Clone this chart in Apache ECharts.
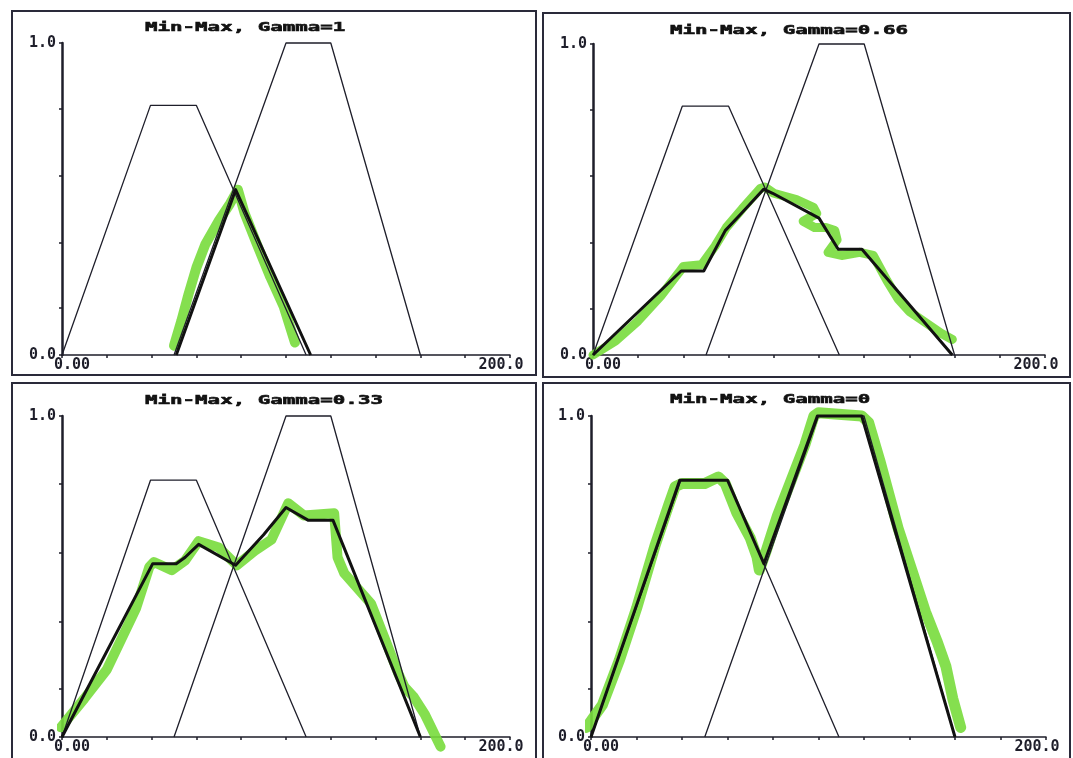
<!DOCTYPE html>
<html><head><meta charset="utf-8">
<script src="https://cdn.jsdelivr.net/npm/echarts@6/dist/echarts.min.js"></script>
<style>html,body{margin:0;padding:0;background:#fff}#c{width:1073px;height:758px}</style>
</head><body><div id="c"></div>
<script>
// ---- data ----
const panelTitles = ['Min-Max, Gamma=1', 'Min-Max, Gamma=0.66', 'Min-Max, Gamma=0.33', 'Min-Max, Gamma=0'];
const xTickLabels = ['0.00', '200.0'];
const yTickLabels = ['0.0', '1.0'];
const xLabelValues = [0, 200];
const yLabelValues = [0, 1];
const yTickValues = [0, 0.15, 0.36, 0.575, 0.79, 1];

// two trapezoid membership functions (same in every panel)
const setA = [[0, 0], [39.5, 0.8], [60, 0.8], [109, 0]];
const setB = [[50, 0], [100, 1], [120, 1], [160, 0]];

// thick result curves
const result1 = [[51, 0], [77.5, 0.53], [111, 0]];
const result2 = [[0, 0], [39, 0.27], [49, 0.27], [58.5, 0.4], [65, 0.45], [75.5, 0.533], [79.5, 0.52], [100, 0.44], [108.5, 0.34], [119, 0.34], [159, 0]];
const result3 = [[0, 0], [40.5, 0.54], [51, 0.54], [55, 0.56], [61, 0.6], [77.5, 0.535], [90, 0.63], [100, 0.715], [110, 0.675], [121, 0.675], [160, 0]];
const result4 = [[0, 0], [39, 0.8], [60, 0.8], [76, 0.54], [99.5, 1], [119, 1], [160, 0]];

// green hand-drawn highlighter strokes
const marker1 = [[50, 0.03], [53.3, 0.11], [56.5, 0.195], [60, 0.28], [64, 0.355], [70, 0.43], [75, 0.485], [78.5, 0.53], [81.5, 0.455], [87, 0.355], [93, 0.25], [99, 0.155], [104, 0.04]];
const marker2 = [[0, 0], [10, 0.045], [20, 0.11], [30, 0.19], [38, 0.265], [40, 0.285], [48, 0.29], [54, 0.35], [59, 0.41], [66, 0.47], [74, 0.535], [76, 0.54], [80, 0.52], [90, 0.5], [97.5, 0.475], [99, 0.455], [93, 0.43], [98, 0.41], [103, 0.41], [107, 0.4], [108, 0.37], [104, 0.33], [110, 0.32], [118, 0.33], [124, 0.32], [130, 0.24], [135, 0.18], [140, 0.14], [148, 0.1], [154, 0.07], [159, 0.05]];
const marker3 = [[-0.5, 0.03], [10, 0.12], [20, 0.21], [33, 0.4], [39, 0.53], [41, 0.545], [49, 0.52], [55, 0.55], [61, 0.61], [70, 0.59], [78, 0.535], [86, 0.58], [93.5, 0.615], [101, 0.728], [108, 0.69], [121.5, 0.697], [123, 0.56], [126, 0.51], [138, 0.415], [145, 0.29], [150, 0.2], [153, 0.155], [157, 0.125], [162, 0.07], [169, -0.03]];
const marker4 = [[-2, 0.03], [5, 0.1], [12.5, 0.24], [20, 0.4], [28.3, 0.6], [34, 0.72], [37, 0.78], [40, 0.79], [50, 0.79], [56, 0.81], [59, 0.79], [64, 0.7], [70, 0.62], [73, 0.56], [74, 0.52], [77, 0.58], [82, 0.69], [88, 0.8], [94, 0.91], [98, 1.0], [100, 1.01], [119, 1.0], [122, 0.98], [127, 0.86], [135, 0.65], [141, 0.52], [147, 0.39], [152, 0.3], [156, 0.22], [159, 0.12], [162.5, 0.03]];

const results = [result1, result2, result3, result4];
const markers = [marker1, marker2, marker3, marker4];
const markerWidths = [10, 9, 10, 11];

// ---- layout ----
const grids = [
  { left: 62, top: 43, width: 448, height: 312 },
  { left: 593, top: 44, width: 452, height: 311 },
  { left: 62, top: 416, width: 448, height: 321 },
  { left: 591, top: 416, width: 455, height: 321 }
];
const frames = [
  [12, 11, 524, 364], [543, 13, 527, 364], [12, 383, 524, 400], [543, 383, 527, 400]
];
const titlePos = [[145, 28], [670, 31], [145, 401], [670, 400]];

const INK = '#1e1e2a';
const MONO = '"DejaVu Sans Mono", "Liberation Mono", monospace';

const xAxes = [], yAxes = [], series = [], graphics = [];
grids.forEach((g, i) => {
  xAxes.push({
    type: 'value', gridIndex: i, min: 0, max: 200, interval: 20,
    axisLine: { show: true, onZero: false, lineStyle: { color: INK, width: 1.5 } },
    axisTick: { show: true, length: 3, lineStyle: { color: INK, width: 1.5 } },
    splitLine: { show: false },
    axisLabel: {
      customValues: xLabelValues, margin: 3,
      formatter: v => v === xLabelValues[0] ? '{a|' + xTickLabels[0] + '}' : '{b|' + xTickLabels[1] + '}',
      rich: {
        a: { fontFamily: MONO, fontWeight: 'bold', fontSize: 15, color: INK, padding: [0, 0, 0, 20] },
        b: { fontFamily: MONO, fontWeight: 'bold', fontSize: 15, color: INK, padding: [0, 18, 0, 0] }
      }
    }
  });
  yAxes.push({
    type: 'value', gridIndex: i, min: 0, max: 1,
    axisLine: { show: true, onZero: false, lineStyle: { color: INK, width: 2.5 } },
    axisTick: { show: true, length: 3, customValues: yTickValues, lineStyle: { color: INK, width: 1.5 } },
    splitLine: { show: false },
    axisLabel: {
      customValues: yLabelValues, margin: 6,
      formatter: v => v === yLabelValues[0] ? yTickLabels[0] : yTickLabels[1],
      fontFamily: MONO, fontWeight: 'bold', fontSize: 15, color: INK
    }
  });
  const base = { type: 'line', xAxisIndex: i, yAxisIndex: i, symbol: 'none', showSymbol: false, clip: false, silent: true, animation: false };
  series.push(Object.assign({}, base, { name: 'marker' + (i + 1), data: markers[i], z: 1,
    lineStyle: { color: '#78dc3c', width: markerWidths[i], opacity: 0.9, cap: 'round', join: 'round' } }));
  series.push(Object.assign({}, base, { name: 'A' + (i + 1), data: setA, z: 2,
    lineStyle: { color: INK, width: 1.3 } }));
  series.push(Object.assign({}, base, { name: 'B' + (i + 1), data: setB, z: 2,
    lineStyle: { color: INK, width: 1.3 } }));
  series.push(Object.assign({}, base, { name: 'R' + (i + 1), data: results[i], z: 3,
    lineStyle: { color: '#111', width: 3, join: 'round' } }));

  const f = frames[i];
  graphics.push({ type: 'rect', shape: { x: f[0], y: f[1], width: f[2], height: f[3] }, silent: true,
    style: { fill: 'none', stroke: '#2a2a3a', lineWidth: 2 } });
  graphics.push({ type: 'text', x: titlePos[i][0], y: titlePos[i][1], scaleX: 1.6, silent: true,
    style: { text: panelTitles[i], fontSize: 13, fontWeight: 'bold', fontFamily: MONO, fill: '#111',
      stroke: '#111', lineWidth: 0.6, verticalAlign: 'middle', align: 'left' } });
});

const chart = echarts.init(document.getElementById('c'), null, { renderer: 'canvas' });
chart.setOption({
  animation: false,
  backgroundColor: '#ffffff',
  grid: grids,
  xAxis: xAxes,
  yAxis: yAxes,
  series: series,
  graphic: graphics
});
</script></body></html>
